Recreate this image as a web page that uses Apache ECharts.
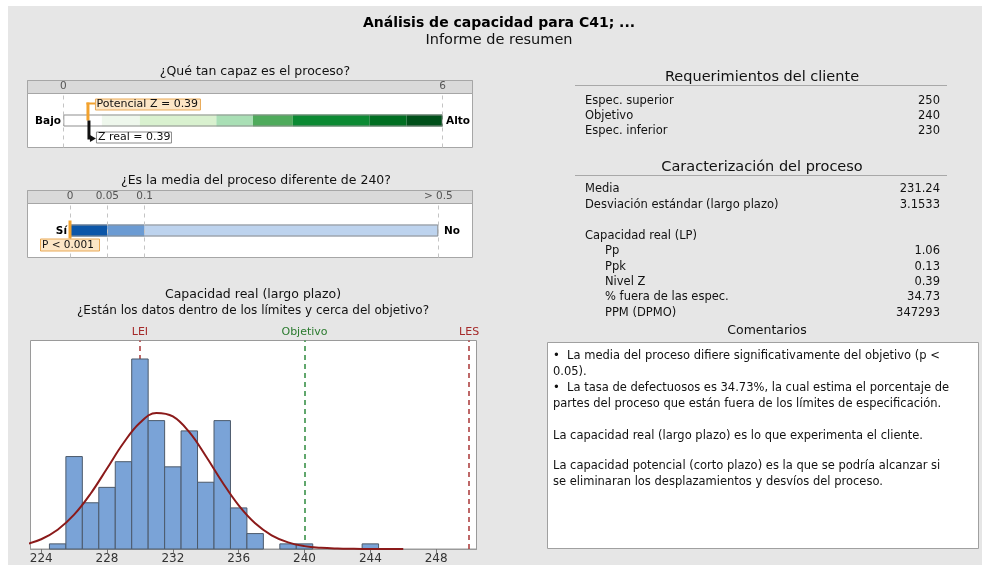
<!DOCTYPE html>
<html><head><meta charset="utf-8">
<script src="https://cdn.jsdelivr.net/npm/echarts@6/dist/echarts.min.js"></script>
<style>html,body{margin:0;padding:0;background:#fff}#c{width:982px;height:565px}</style>
</head><body><div id="c"></div>
<script>
// ---------- data ----------
// Gauge 1 : ¿Qué tan capaz es el proceso? (Z bench scale 0..6)
const zSegEdges = [0, 0.61, 1.21, 2.42, 3.0, 3.63, 4.84, 5.43, 6];
const zSegColors = ['#ffffff', '#eef7ec', '#d9f1cf', '#a9dfb5', '#4fab5c', '#0b8a33', '#006f22', '#00501a'];
const zTicks = [0, 6];
const zPotential = 0.39;
const zReal = 0.39;

// Gauge 2 : ¿Es la media del proceso diferente de 240? (p-value)
const pSegEdges = [0, 0.05, 0.1, 0.5];
const pSegColors = ['#0c56a8', '#6b9bd3', '#bdd3ee'];
const pTicks = [0, 0.05, 0.1, 0.5];
const pTickLabels = ['0', '0.05', '0.1', '> 0.5'];
const pValue = 0;          // P < 0.001

// Histogram (bin width 1)
const binCenters = [225, 226, 227, 228, 229, 230, 231, 232, 233, 234, 235, 236, 237, 238, 239, 240, 241, 242, 243, 244];
const binCounts  = [1, 18, 9, 12, 17, 37, 25, 16, 23, 13, 25, 8, 3, 0, 1, 1, 0, 0, 0, 1];
// fitted normal curve
const curveX = [223, 224, 225, 226, 227, 228, 229, 230, 231, 232, 233, 234, 235, 236, 237, 238, 239, 240, 241, 242, 243, 244, 245, 246];
const curveY = [0.87, 1.9, 3.75, 6.68, 10.76, 15.67, 20.64, 24.59, 26.49, 25.81, 22.74, 18.12, 13.05, 8.5, 5.01, 2.67, 1.29, 0.56, 0.22, 0.08, 0.03, 0.01, 0, 0];
const xTicks = [224, 228, 232, 236, 240, 244, 248];
const specNames = ['LEI', 'Objetivo', 'LES'];
const specValues = [230, 240, 250];

// Tables
const reqLabels = ['Espec. superior', 'Objetivo', 'Espec. inferior'];
const reqValues = ['250', '240', '230'];
const charLabels = ['Media', 'Desviación estándar (largo plazo)'];
const charValues = ['231.24', '3.1533'];
const capLabels = ['Pp', 'Ppk', 'Nivel Z', '% fuera de las espec.', 'PPM (DPMO)'];
const capValues = ['1.06', '0.13', '0.39', '34.73', '347293'];
const comments = [
  '•  La media del proceso difiere significativamente del objetivo (p <',
  '0.05).',
  '•  La tasa de defectuosos es 34.73%, la cual estima el porcentaje de',
  'partes del proceso que están fuera de los límites de especificación.',
  '',
  'La capacidad real (largo plazo) es lo que experimenta el cliente.',
  '',
  'La capacidad potencial (corto plazo) es la que se podría alcanzar si',
  'se eliminaran los desplazamientos y desvíos del proceso.'
];

// ---------- helpers ----------
const F = '"DejaVu Sans", "Noto Sans", sans-serif';
// non-linear gauge scale used for p-values
function pScale(p) { return p <= 0.1 ? p * 20 : 2 + (p - 0.1) * (7.87 / 0.4); }
const pMax = pScale(0.5);

function txt(x, y, s, font, opt) {
  opt = opt || {};
  return { type: 'text', z: 10, silent: true,
    style: { text: s, x: x, y: y, font: font, fill: opt.fill || '#111',
      align: opt.align || 'left', verticalAlign: 'middle' } };
}
function rect(x, y, w, h, fill, stroke, z) {
  return { type: 'rect', z: z == null ? -5 : z, silent: true,
    shape: { x: x, y: y, width: w, height: h },
    style: { fill: fill, stroke: stroke || null, lineWidth: stroke ? 1 : 0 } };
}
function line(x1, y1, x2, y2, stroke) {
  return { type: 'line', z: -4, silent: true, shape: { x1: x1, y1: y1, x2: x2, y2: y2 }, style: { stroke: stroke, lineWidth: 1 } };
}

// ---------- graphic (layout, boxes, texts) ----------
const g = [];
g.push(rect(0, 0, 982, 565, '#ffffff', null, -10));
g.push(rect(8, 6, 974, 559, '#e6e6e6', null, -9));
// title
g.push(txt(499, 23, 'Análisis de capacidad para C41; ...', 'bold 14px ' + F, { align: 'center', fill: '#000' }));
g.push(txt(499, 40, 'Informe de resumen', '14.5px ' + F, { align: 'center' }));
// gauge 1 box
g.push(txt(255, 72, '¿Qué tan capaz es el proceso?', '12.5px ' + F, { align: 'center' }));
g.push(rect(27.5, 80.5, 445, 67, '#ffffff', '#a6a6a6'));
g.push(rect(27.5, 80.5, 445, 13, '#d9d9d9', '#a6a6a6'));
g.push(txt(61, 121, 'Bajo', 'bold 10.5px ' + F, { align: 'right', fill: '#000' }));
g.push(txt(446, 121, 'Alto', 'bold 10.5px ' + F, { fill: '#000' }));
// gauge 2 box
g.push(txt(256, 181, '¿Es la media del proceso diferente de 240?', '12.5px ' + F, { align: 'center' }));
g.push(rect(27.5, 190.5, 445, 67, '#ffffff', '#a6a6a6'));
g.push(rect(27.5, 190.5, 445, 13, '#d9d9d9', '#a6a6a6'));
g.push(txt(67, 231, 'Sí', 'bold 10.5px ' + F, { align: 'right', fill: '#000' }));
g.push(txt(444, 231, 'No', 'bold 10.5px ' + F, { fill: '#000' }));
// histogram titles
g.push(txt(253, 295, 'Capacidad real (largo plazo)', '12.5px ' + F, { align: 'center' }));
g.push(txt(253, 311, '¿Están los datos dentro de los límites y cerca del objetivo?', '12px ' + F, { align: 'center' }));
// right tables
g.push(txt(762, 77, 'Requerimientos del cliente', '14.5px ' + F, { align: 'center' }));
g.push(line(575, 85.5, 947, 85.5, '#a8a8a8'));
reqLabels.forEach((l, i) => {
  g.push(txt(585, 101 + i * 15, l, '11.5px ' + F));
  g.push(txt(940, 101 + i * 15, reqValues[i], '11.5px ' + F, { align: 'right' }));
});
g.push(txt(762, 167, 'Caracterización del proceso', '14.5px ' + F, { align: 'center' }));
g.push(line(575, 175.5, 947, 175.5, '#a8a8a8'));
charLabels.forEach((l, i) => {
  g.push(txt(585, 189 + i * 16, l, '11.5px ' + F));
  g.push(txt(940, 189 + i * 16, charValues[i], '11.5px ' + F, { align: 'right' }));
});
g.push(txt(585, 236, 'Capacidad real (LP)', '11.5px ' + F));
capLabels.forEach((l, i) => {
  g.push(txt(605, 251.5 + i * 15.3, l, '11.5px ' + F));
  g.push(txt(940, 251.5 + i * 15.3, capValues[i], '11.5px ' + F, { align: 'right' }));
});
g.push(txt(767, 331, 'Comentarios', '12.5px ' + F, { align: 'center' }));
g.push(rect(547.5, 342.5, 431, 206, '#ffffff', '#a0a0a0'));
const cy = [356, 372, 388, 404, 420, 436, 451, 466, 482];
comments.forEach((l, i) => { if (l) g.push(txt(553, cy[i], l, '11.5px ' + F)); });

// ---------- series ----------
const series = [];
// gauge 1 segments
zSegColors.forEach((c, i) => {
  series.push({ type: 'bar', xAxisIndex: 0, yAxisIndex: 0, stack: 'z', barWidth: 12, barGap: '-100%', silent: true,
    data: [zSegEdges[i + 1] - zSegEdges[i]], itemStyle: { color: c } });
});
series.push({ type: 'bar', xAxisIndex: 0, yAxisIndex: 0, barWidth: 12, barGap: '-100%', silent: true, z: 3,
  data: [zSegEdges[zSegEdges.length - 1]], itemStyle: { color: 'rgba(0,0,0,0)', borderColor: '#8f8f8f', borderWidth: 1 },
  markLine: { silent: true, symbol: 'none', label: { show: false },
    lineStyle: { color: '#c4c4c4', type: [4, 4], width: 1 },
    data: zTicks.map(v => ({ xAxis: v })) } });
series.push({ type: 'custom', xAxisIndex: 0, yAxisIndex: 0, silent: true, z: 6,
  data: [[zPotential, 0, zReal]],
  renderItem: function (params, api) {
    const p = api.coord([api.value(0), 0]);
    const r = api.coord([api.value(2), 0]);
    const x = p[0], y = p[1];
    return { type: 'group', children: [
      { type: 'line', shape: { x1: x, y1: y - 18, x2: x, y2: y }, style: { stroke: '#f2a22e', lineWidth: 3 } },
      { type: 'line', shape: { x1: x - 1.5, y1: y - 17, x2: x + 8, y2: y - 17 }, style: { stroke: '#f2a22e', lineWidth: 2 } },
      { type: 'rect', shape: { x: x + 7.5, y: y - 21.5, width: 105, height: 11 }, style: { fill: '#fce6c6', stroke: '#e9a956', lineWidth: 1 } },
      { type: 'text', style: { text: 'Potencial Z = ' + api.value(0), x: x + 8.5, y: y - 16, font: '11px ' + F, fill: '#111', verticalAlign: 'middle' } },
      { type: 'line', shape: { x1: r[0] + 1, y1: y, x2: r[0] + 1, y2: y + 19 }, style: { stroke: '#111', lineWidth: 3 } },
      { type: 'polygon', shape: { points: [[r[0] + 2, y + 14.5], [r[0] + 8, y + 18], [r[0] + 2, y + 21.5]] }, style: { fill: '#111' } },
      { type: 'rect', shape: { x: r[0] + 8.5, y: y + 11.5, width: 75, height: 11 }, style: { fill: '#ffffff', stroke: '#8a8a8a', lineWidth: 1 } },
      { type: 'text', style: { text: 'Z real = ' + api.value(2), x: r[0] + 10, y: y + 17, font: '11px ' + F, fill: '#111', verticalAlign: 'middle' } }
    ] };
  } });
// gauge 2 segments
pSegColors.forEach((c, i) => {
  series.push({ type: 'bar', xAxisIndex: 1, yAxisIndex: 1, stack: 'p', barWidth: 12, barGap: '-100%', silent: true,
    data: [pScale(pSegEdges[i + 1]) - pScale(pSegEdges[i])], itemStyle: { color: c } });
});
series.push({ type: 'bar', xAxisIndex: 1, yAxisIndex: 1, barWidth: 12, barGap: '-100%', silent: true, z: 3,
  data: [pMax], itemStyle: { color: 'rgba(0,0,0,0)', borderColor: '#8f8f8f', borderWidth: 1 },
  markLine: { silent: true, symbol: 'none', label: { show: false },
    lineStyle: { color: '#c4c4c4', type: [4, 4], width: 1 },
    data: pTicks.map(v => ({ xAxis: pScale(v) })) } });
series.push({ type: 'custom', xAxisIndex: 1, yAxisIndex: 1, silent: true, z: 6,
  data: [[pScale(pValue), 0]],
  renderItem: function (params, api) {
    const p = api.coord([api.value(0), 0]);
    const x = p[0], y = p[1];
    return { type: 'group', children: [
      { type: 'line', shape: { x1: x, y1: y - 10, x2: x, y2: y + 8 }, style: { stroke: '#f2a22e', lineWidth: 3 } },
      { type: 'rect', shape: { x: x - 29.5, y: y + 8.5, width: 59, height: 12 }, style: { fill: '#fce6c6', stroke: '#e9a956', lineWidth: 1 } },
      { type: 'text', style: { text: 'P < 0.001', x: x - 28, y: y + 14.5, font: '10.5px ' + F, fill: '#111', verticalAlign: 'middle' } }
    ] };
  } });
// spec limit lines (drawn below the bars)
const specColors = ['#a93636', '#2e8b3e', '#a93636'];
const specLabelColors = ['#a52a2a', '#2a7a2e', '#a52a2a'];
series.push({ type: 'line', xAxisIndex: 2, yAxisIndex: 2, silent: true, z: 1, data: [],
  markLine: { silent: true, symbol: 'none', animation: false, z: 1,
    data: specValues.map((v, i) => ({ xAxis: v,
      lineStyle: { color: specColors[i], type: [5, 4], width: 1.5 },
      label: { show: true, position: 'end', formatter: specNames[i], color: specLabelColors[i], fontSize: 11, fontFamily: F, distance: 3 } })) } });
// histogram
series.push({ type: 'custom', xAxisIndex: 2, yAxisIndex: 2, silent: true, z: 7,
  data: binCenters.map((c, i) => [c, binCounts[i]]),
  renderItem: function (params, api) {
    const c = api.value(0), n = api.value(1);
    if (!n) return null;
    const a = api.coord([c - 0.5, n]);
    const b = api.coord([c + 0.5, 0]);
    return { type: 'rect', shape: { x: a[0], y: a[1], width: b[0] - a[0], height: b[1] - a[1] },
      style: { fill: '#7aa3d7', stroke: '#4c5a6b', lineWidth: 1 } };
  } });
// fitted curve
series.push({ type: 'line', xAxisIndex: 2, yAxisIndex: 2, silent: true, z: 8,
  data: curveX.map((x, i) => [x, curveY[i]]), smooth: 0.4, symbol: 'none',
  lineStyle: { color: '#8b1a1a', width: 2 } });

const option = {
  animation: false,
  grid: [
    { left: 63.3, top: 93.5, width: 379.4, height: 54 },
    { left: 70, top: 203.5, width: 368.3, height: 54 },
    { left: 30.5, top: 340.5, width: 446, height: 208.5, show: true, backgroundColor: '#ffffff', borderColor: '#9a9a9a', borderWidth: 1 }
  ],
  xAxis: [
    { gridIndex: 0, type: 'value', position: 'top', min: 0, max: 6, interval: 6,
      axisLine: { show: false }, axisTick: { show: false }, splitLine: { show: false },
      axisLabel: { margin: 1.5, fontSize: 10.5, fontFamily: F, color: '#555' } },
    { gridIndex: 1, type: 'value', position: 'top', min: 0, max: pMax,
      axisLine: { show: false }, axisTick: { show: false }, splitLine: { show: false },
      axisLabel: { margin: 1.5, fontSize: 10.5, fontFamily: F, color: '#555',
        customValues: pTicks.map(pScale),
        formatter: function (v) {
          let best = 0;
          pTicks.forEach((t, i) => { if (Math.abs(pScale(t) - v) < Math.abs(pScale(pTicks[best]) - v)) best = i; });
          return pTickLabels[best];
        } } },
    { gridIndex: 2, type: 'value', min: 223.35, max: 250.45,
      axisLine: { show: true, lineStyle: { color: '#9a9a9a' } },
      axisTick: { show: true, length: 4, customValues: xTicks, lineStyle: { color: '#777' } },
      splitLine: { show: false },
      axisLabel: { margin: 4, fontSize: 12, fontFamily: F, color: '#333', customValues: xTicks } }
  ],
  yAxis: [
    { gridIndex: 0, type: 'category', data: ['z'], show: false },
    { gridIndex: 1, type: 'category', data: ['p'], show: false },
    { gridIndex: 2, type: 'value', min: 0, max: 40.6, show: false }
  ],
  graphic: { elements: g },
  series: series
};
const chart = echarts.init(document.getElementById('c'), null, { renderer: 'canvas' });
chart.setOption(option);
</script>
</body></html>
